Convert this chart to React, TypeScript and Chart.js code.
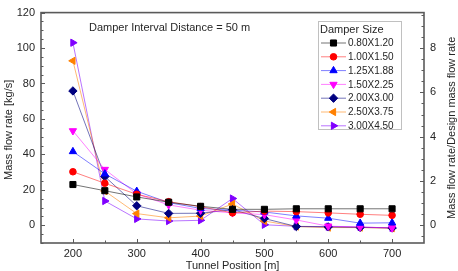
import React, { useEffect, useRef } from "react";
import { Chart, registerables } from "chart.js";
import { drawPoint } from "chart.js/helpers";

Chart.register(...registerables);

// ---- data ----
const positions = [200, 250, 300, 350, 400, 450, 500, 550, 600, 650, 700];
const seriesNames = ["0.80X1.20", "1.00X1.50", "1.25X1.88", "1.50X2.25", "2.00X3.00", "2.50X3.75", "3.00X4.50"];
const s080x120 = [23, 19.5, 16, 13, 10.7, 9, 9, 9.3, 9.3, 9.3, 9.3];
const s100x150 = [30.2, 23.7, 17.5, 13.3, 10.5, 7, 8, 7.7, 7, 6.2, 5.6];
const s125x188 = [41.6, 29, 19.2, 12.8, 9.5, 8.5, 7.5, 5.3, 4, 1.2, 1.4];
const s150x225 = [53.3, 31.5, 17.7, 11.5, 8.5, 7, 6, 3, -0.5, -1, -1.5];
const s200x300 = [75.8, 27.5, 11, 6.7, 6.8, 8.8, 3.8, -0.7, -0.9, -1.2, -1.5];
const s250x375 = [92.8, 19.3, 6.6, 4.2, 5.2, 12, 2.4, -0.7, -1.3, -1.3, -1.7];
const s300x450 = [103, 13.7, 3.6, 2.4, 2.8, 15.1, 0.3, -0.6, -0.8, -1, -1.5];
const seriesValues = [s080x120, s100x150, s125x188, s150x225, s200x300, s250x375, s300x450];

const xTicks = [200, 300, 400, 500, 600, 700];
const yLeftTicks = [0, 20, 40, 60, 80, 100, 120];
const yRightTicks = [0, 2, 4, 6, 8];

const xTitle = "Tunnel Position [m]";
const yLeftTitle = "Mass flow rate [kg/s]";
const yRightTitle = "Mass flow rate/Design mass flow rate";
const annotationText = "Damper Interval Distance = 50 m";
const legendTitle = "Damper Size";

// ---- styles ----
const colors = ["#000000", "#ff0000", "#0000ff", "#ff00ff", "#000080", "#ff8000", "#8000ff"];
const lineColors = [
  "rgba(0,0,0,0.55)",
  "rgba(255,0,0,0.5)",
  "rgba(0,0,255,0.5)",
  "rgba(255,0,255,0.5)",
  "rgba(0,0,128,0.55)",
  "rgba(255,128,0,0.55)",
  "rgba(128,0,255,0.55)",
];
const pointStyles = ["rect", "circle", "triangle", "triangle", "rectRot", "triangle", "triangle"];
const pointRotations = [0, 0, 0, 180, 0, -90, 90];
const pointRadii = [4.3, 3.3, 4.2, 4.2, 4.2, 4.2, 4.2];

const FONT = "'Liberation Sans', Arial, sans-serif";
const AXIS_COLOR = "#5a5a5a";
const TEXT_COLOR = "#262626";

const decorPlugin = {
  id: "decor",
  afterDraw(chart: any) {
    const { ctx, chartArea: a } = chart;
    const sx = chart.scales.x;
    const sy = chart.scales.y;
    const sy2 = chart.scales.y2;
    ctx.save();
    // frame
    ctx.strokeStyle = AXIS_COLOR;
    ctx.lineWidth = 1.6;
    ctx.strokeRect(a.left, a.top, a.right - a.left, a.bottom - a.top);

    // ticks (inward)
    ctx.lineWidth = 1;
    ctx.beginPath();
    for (let v = -10; v <= 120; v += 5) {
      const y = Math.round(sy.getPixelForValue(v)) + 0.5;
      const len = v % 20 === 0 ? 4 : 2.5;
      ctx.moveTo(a.left, y);
      ctx.lineTo(a.left + len, y);
    }
    for (let v = -0.5; v <= 9.5; v += 0.5) {
      const y = Math.round(sy2.getPixelForValue(v)) + 0.5;
      const len = Math.abs(v % 2) < 1e-6 ? 4 : 2.5;
      ctx.moveTo(a.right, y);
      ctx.lineTo(a.right - len, y);
    }
    for (let v = 200; v <= 700; v += 50) {
      const x = Math.round(sx.getPixelForValue(v)) + 0.5;
      const len = v % 100 === 0 ? 4 : 2.5;
      ctx.moveTo(x, a.bottom);
      ctx.lineTo(x, a.bottom - len);
    }
    ctx.stroke();

    // axis titles
    ctx.fillStyle = TEXT_COLOR;
    ctx.font = `11px ${FONT}`;
    ctx.textAlign = "center";
    ctx.textBaseline = "middle";
    ctx.fillText(xTitle, (a.left + a.right) / 2, 265.5);
    ctx.save();
    ctx.translate(9, (a.top + a.bottom) / 2 + 2);
    ctx.rotate(-Math.PI / 2);
    ctx.fillText(yLeftTitle, 0, 0);
    ctx.restore();
    ctx.save();
    ctx.translate(452, (a.top + a.bottom) / 2);
    ctx.rotate(-Math.PI / 2);
    ctx.fillText(yRightTitle, 0, 0);
    ctx.restore();

    // annotation
    ctx.textAlign = "left";
    ctx.fillText(annotationText, 89, 28);

    // legend
    const lx = 318, ly = 21, lw = 83, lh = 108;
    ctx.fillStyle = "#ffffff";
    ctx.fillRect(lx, ly, lw, lh);
    ctx.strokeStyle = "#c0c0c0";
    ctx.lineWidth = 1;
    ctx.strokeRect(lx + 0.5, ly + 0.5, lw, lh);
    ctx.fillStyle = TEXT_COLOR;
    ctx.font = `11px ${FONT}`;
    ctx.fillText(legendTitle, 320, 29.5);
    ctx.font = `10px ${FONT}`;
    seriesNames.forEach((name, i) => {
      const y = 43 + i * 13.8;
      ctx.strokeStyle = lineColors[i];
      ctx.lineWidth = 1;
      ctx.beginPath();
      ctx.moveTo(321, y);
      ctx.lineTo(346, y);
      ctx.stroke();
      ctx.fillStyle = colors[i];
      ctx.strokeStyle = colors[i];
      drawPoint(ctx, { pointStyle: pointStyles[i], rotation: pointRotations[i], radius: pointRadii[i], borderWidth: 1 } as any, 333.5, y);
      ctx.fillStyle = TEXT_COLOR;
      ctx.fillText(name, 348, y + 0.5);
    });
    ctx.restore();
  },
};

export default function App() {
  const ref = useRef<HTMLCanvasElement | null>(null);
  useEffect(() => {
    if (!ref.current) return;
    const datasets = seriesNames.map((name, i) => ({
      label: name,
      data: positions.map((x, j) => ({ x, y: seriesValues[i][j] })),
      borderColor: lineColors[i],
      backgroundColor: colors[i],
      pointBorderColor: colors[i],
      pointBackgroundColor: colors[i],
      borderWidth: 1,
      pointStyle: pointStyles[i],
      pointRotation: pointRotations[i],
      pointRadius: pointRadii[i],
      pointBorderWidth: 1,
      tension: 0,
      yAxisID: "y",
    }));
    const chart = new Chart(ref.current, {
      type: "line",
      data: { datasets },
      plugins: [decorPlugin],
      options: {
        animation: false,
        responsive: false,
        maintainAspectRatio: false,
        devicePixelRatio: 1,
        layout: { padding: { top: 6, left: 0, right: 0, bottom: 0 } },
        plugins: { legend: { display: false }, tooltip: { enabled: false } },
        scales: {
          x: {
            type: "linear",
            min: 150,
            max: 750,
            afterBuildTicks: (s: any) => {
              s.ticks = xTicks.map((v) => ({ value: v }));
            },
            afterFit: (s: any) => {
              s.height = 28;
            },
            grid: { display: false, drawTicks: false },
            border: { display: false },
            ticks: { color: TEXT_COLOR, font: { size: 11, family: FONT }, padding: 4, maxRotation: 0 },
          },
          y: {
            type: "linear",
            position: "left",
            min: -10,
            max: 120,
            afterBuildTicks: (s: any) => {
              s.ticks = yLeftTicks.map((v) => ({ value: v }));
            },
            afterFit: (s: any) => {
              s.width = 41;
            },
            grid: { display: false, drawTicks: false },
            border: { display: false },
            ticks: { color: TEXT_COLOR, font: { size: 11, family: FONT }, padding: 6 },
          },
          y2: {
            type: "linear",
            position: "right",
            min: -0.8,
            max: 9.6,
            afterBuildTicks: (s: any) => {
              s.ticks = yRightTicks.map((v) => ({ value: v }));
            },
            afterFit: (s: any) => {
              s.width = 34;
            },
            grid: { display: false, drawTicks: false },
            border: { display: false },
            ticks: { color: TEXT_COLOR, font: { size: 11, family: FONT }, padding: 6 },
          },
        },
      } as any,
    });
    return () => chart.destroy();
  }, []);
  return (
    <div style={{ position: "fixed", left: 0, top: 0, width: 458, height: 271, background: "#fff" }}>
      <canvas ref={ref} width={458} height={271} style={{ display: "block", width: 458, height: 271 }} />
    </div>
  );
}
